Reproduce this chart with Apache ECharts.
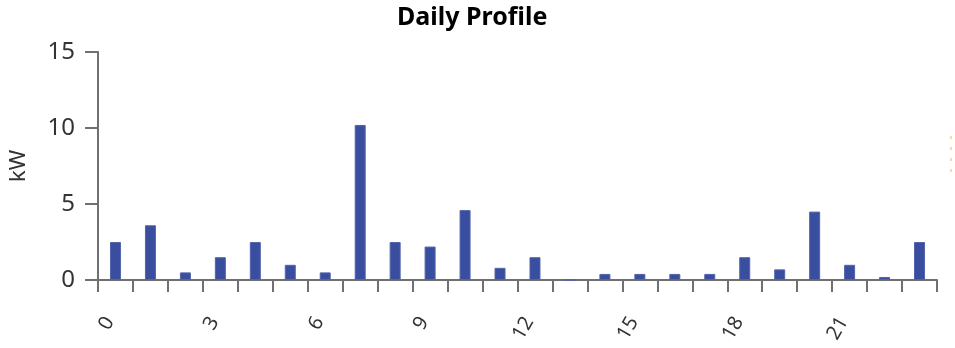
<!DOCTYPE html>
<html>
<head>
<meta charset="utf-8">
<script src="https://cdn.jsdelivr.net/npm/echarts@6/dist/echarts.min.js"></script>
<style>
html,body{margin:0;padding:0;background:#fff;}
#chart{width:955px;height:348px;}
</style>
</head>
<body>
<div id="chart"></div>
<script>
var hours = ['0','1','2','3','4','5','6','7','8','9','10','11','12','13','14','15','16','17','18','19','20','21','22','23'];
var kwValues = [2.5, 3.6, 0.5, 1.5, 2.5, 1.0, 0.5, 10.2, 2.5, 2.2, 4.6, 0.8, 1.5, 0, 0.4, 0.4, 0.4, 0.4, 1.5, 0.7, 4.5, 1.0, 0.2, 2.5];
var yTicks = [0, 5, 10, 15];

var chart = echarts.init(document.getElementById('chart'), null, {renderer: 'canvas'});
var axisColor = '#707070';
var font = '"Noto Sans", "Open Sans", sans-serif';
chart.setOption({
  animation: false,
  title: {
    text: 'Daily Profile',
    left: 392,
    top: 0,
    textStyle: {fontSize: 25, fontWeight: 'bold', color: '#000', fontFamily: font}
  },
  grid: {left: 96, right: 18, top: 52, bottom: 68, containLabel: false},
  xAxis: {
    type: 'category',
    data: hours,
    boundaryGap: true,
    axisLine: {lineStyle: {color: axisColor, width: 2}},
    axisTick: {show: true, interval: 0, length: 12, lineStyle: {color: axisColor, width: 2}},
    axisLabel: {
      interval: 2, rotate: 60, margin: 28, padding: [0, 12, 0, 0],
      fontSize: 20, color: '#333', fontFamily: font
    },
    splitLine: {show: false}
  },
  yAxis: {
    type: 'value',
    min: yTicks[0],
    max: yTicks[yTicks.length - 1],
    interval: 5,
    name: 'kW',
    nameLocation: 'middle',
    nameGap: 68,
    nameRotate: 90,
    nameTextStyle: {fontSize: 22, color: '#333', fontFamily: font},
    axisLine: {show: true, lineStyle: {color: axisColor, width: 2}},
    axisTick: {show: true, length: 13, lineStyle: {color: axisColor, width: 2}},
    axisLabel: {margin: 23, fontSize: 24, color: '#333', fontFamily: font},
    splitLine: {show: false}
  },
  series: [{
    type: 'bar',
    data: kwValues,
    barWidth: 11,
    itemStyle: {color: '#3a4ea0', borderColor: '#5364ad', borderWidth: 1}
  }],
  graphic: [{
    type: 'line',
    shape: {x1: 951, y1: 136, x2: 951, y2: 176},
    style: {stroke: '#ffd8a0', lineWidth: 2, lineDash: [3, 8]}
  }]
});
</script>
</body>
</html>
